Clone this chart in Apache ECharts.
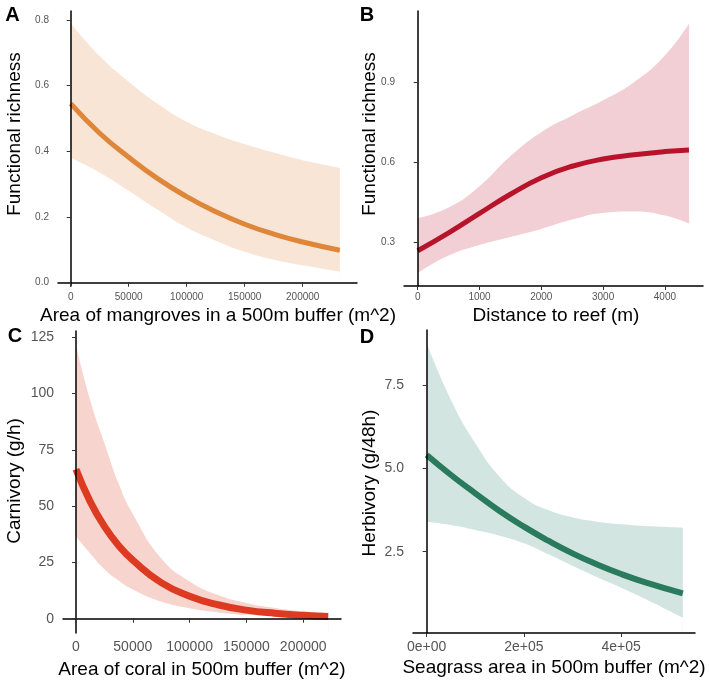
<!DOCTYPE html>
<html>
<head>
<meta charset="utf-8">
<script src="https://cdn.jsdelivr.net/npm/echarts@6/dist/echarts.min.js"></script>
<style>
  html, body { margin: 0; padding: 0; background: #fff; }
  #main { width: 709px; height: 684px; }
</style>
</head>
<body>
<div id="main"></div>
<script>
// ---- panel A: mangroves ----
const aX = [0, 25000, 50000, 75000, 100000, 125000, 150000, 175000, 200000, 232000];
const aFit = [0.545, 0.455, 0.382, 0.317, 0.262, 0.216, 0.178, 0.148, 0.124, 0.099];
const aUpper = [0.79, 0.69, 0.612, 0.545, 0.49, 0.452, 0.422, 0.396, 0.373, 0.35];
const aLower = [0.38, 0.335, 0.28, 0.222, 0.168, 0.128, 0.094, 0.07, 0.053, 0.034];
const aXTicks = [0, 50000, 100000, 150000, 200000];
const aXTickLabels = ['0', '50000', '100000', '150000', '200000'];
const aYTicks = [0, 0.2, 0.4, 0.6, 0.8];
const aYTickLabels = ['0.0', '0.2', '0.4', '0.6', '0.8'];

// ---- panel B: distance to reef ----
const bX = [0, 500, 1000, 1500, 2000, 2500, 3000, 3500, 4000, 4390];
const bFit = [0.268, 0.335, 0.408, 0.48, 0.542, 0.585, 0.612, 0.628, 0.64, 0.646];
const bUpper = [0.39, 0.43, 0.51, 0.622, 0.712, 0.775, 0.832, 0.9, 1.0, 1.12];
const bLower = [0.184, 0.25, 0.29, 0.32, 0.35, 0.385, 0.41, 0.415, 0.4, 0.37];
const bXTicks = [0, 1000, 2000, 3000, 4000];
const bXTickLabels = ['0', '1000', '2000', '3000', '4000'];
const bYTicks = [0.3, 0.6, 0.9];
const bYTickLabels = ['0.3', '0.6', '0.9'];

// ---- panel C: coral / carnivory ----
const cX = [0, 12500, 25000, 37500, 50000, 75000, 100000, 125000, 150000, 175000, 200000, 222000];
const cFit = [66.4, 52, 41, 32.5, 26, 16, 10, 6.2, 3.8, 2.4, 1.5, 1.0];
const cUpper = [121.5, 97, 78, 60, 46.5, 26.8, 16.5, 10.5, 7, 4.8, 3.3, 2.5];
const cLower = [36.5, 29, 22, 17, 13, 7.6, 4.6, 2.8, 1.7, 1.0, 0.6, 0.4];
const cXTicks = [0, 50000, 100000, 150000, 200000];
const cXTickLabels = ['0', '50000', '100000', '150000', '200000'];
const cYTicks = [0, 25, 50, 75, 100, 125];
const cYTickLabels = ['0', '25', '50', '75', '100', '125'];

// ---- panel D: seagrass / herbivory ----
const dX = [0, 50000, 100000, 150000, 200000, 250000, 300000, 350000, 400000, 450000, 527000];
const dFit = [5.4, 4.8, 4.25, 3.72, 3.25, 2.83, 2.45, 2.12, 1.83, 1.58, 1.25];
const dUpper = [8.75, 7.05, 5.75, 4.75, 4.12, 3.75, 3.53, 3.4, 3.32, 3.27, 3.22];
const dLower = [3.4, 3.3, 3.15, 2.98, 2.75, 2.42, 2.08, 1.74, 1.42, 1.08, 0.52];
const dXTicks = [0, 200000, 400000];
const dXTickLabels = ['0e+00', '2e+05', '4e+05'];
const dYTicks = [2.5, 5.0, 7.5];
const dYTickLabels = ['2.5', '5.0', '7.5'];

const panels = [
  { x: aX, fit: aFit, up: aUpper, lo: aLower, line: '#DE873A', band: '#F9E5D6', lw: 5,
    grid: { left: 58, top: 11, width: 299, height: 275 },
    xMin: -10950, xMax: 246800, yMin: -0.01, yMax: 0.827, fs: 10,
    xt: aXTicks, xl: aXTickLabels, yt: aYTicks, yl: aYTickLabels },
  { x: bX, fit: bFit, up: bUpper, lo: bLower, line: '#B7132B', band: '#F1CFD4', lw: 5,
    grid: { left: 404, top: 11, width: 299, height: 275 },
    xMin: -222, xMax: 4617, yMin: 0.136, yMax: 1.167, fs: 10,
    xt: bXTicks, xl: bXTickLabels, yt: bYTicks, yl: bYTickLabels },
  { x: cX, fit: cFit, up: cUpper, lo: cLower, line: '#DC3B22', band: '#F8D4CE', lw: 7,
    grid: { left: 63, top: 331, width: 278, height: 302 },
    xMin: -11440, xMax: 233270, yMin: -6.35, yMax: 127.75, fs: 14,
    xt: cXTicks, xl: cXTickLabels, yt: cYTicks, yl: cYTickLabels },
  { x: dX, fit: dFit, up: dUpper, lo: dLower, line: '#2A7A5D', band: '#D3E5E0', lw: 6,
    grid: { left: 413, top: 330, width: 282, height: 303 },
    xMin: -28190, xMax: 552060, yMin: 0.06, yMax: 9.15, fs: 14,
    xt: dXTicks, xl: dXTickLabels, yt: dYTicks, yl: dYTickLabels }
];

function axisBase(p, ticks, labels) {
  return {
    type: 'value',
    z: 10,
    axisLine: { show: true, lineStyle: { color: '#000', width: 1.5 } },
    axisTick: { show: true, length: 4, lineStyle: { color: '#333' }, customValues: ticks },
    axisLabel: {
      color: '#555', fontSize: p.fs, fontFamily: 'Liberation Sans',
      customValues: ticks,
      formatter: v => labels[ticks.findIndex(t => Math.abs(t - v) < 1e-9)]
    },
    splitLine: { show: false }
  };
}

const grids = [], xAxes = [], yAxes = [], series = [];
panels.forEach((p, i) => {
  grids.push(p.grid);
  const xa = axisBase(p, p.xt, p.xl);
  xa.gridIndex = i; xa.min = p.xMin; xa.max = p.xMax;
  xa.axisLabel.margin = p.fs > 12 ? 7 : 6;
  xAxes.push(xa);
  const ya = axisBase(p, p.yt, p.yl);
  ya.gridIndex = i; ya.min = p.yMin; ya.max = p.yMax;
  ya.axisLabel.margin = 9;
  yAxes.push(ya);

  const common = {
    type: 'line', xAxisIndex: i, yAxisIndex: i, smooth: true,
    symbol: 'none', silent: true
  };
  // confidence band: upper filled down to the axis, then masked in white below the lower bound
  series.push(Object.assign({}, common, {
    lineStyle: { width: 0, opacity: 0 },
    areaStyle: { color: p.band, opacity: 1, origin: 'start' },
    data: p.x.map((x, k) => [x, p.up[k]])
  }));
  series.push(Object.assign({}, common, {
    lineStyle: { width: 0, opacity: 0 },
    areaStyle: { color: '#fff', opacity: 1, origin: 'start' },
    data: p.x.map((x, k) => [x, p.lo[k]])
  }));
  series.push(Object.assign({}, common, {
    z: 5,
    lineStyle: { color: p.line, width: p.lw },
    data: p.x.map((x, k) => [x, p.fit[k]])
  }));
});

const titleStyle = { fill: '#000', fontSize: 19, fontFamily: 'Liberation Sans', align: 'center', verticalAlign: 'middle' };
const letterStyle = { fill: '#000', fontSize: 20, fontWeight: 'bold', fontFamily: 'Liberation Sans', align: 'center', verticalAlign: 'middle' };

function txt(text, x, y, style, rot) {
  return { type: 'text', x: x, y: y, rotation: rot || 0, style: Object.assign({ text: text }, style) };
}

const graphics = [
  txt('A', 12.5, 15, letterStyle),
  txt('B', 367, 15, letterStyle),
  txt('C', 15, 336, letterStyle),
  txt('D', 367, 337, letterStyle),
  txt('Area of mangroves in a 500m buffer (m^2)', 218, 316, titleStyle),
  txt('Distance to reef (m)', 556, 316, titleStyle),
  txt('Area of coral in 500m buffer (m^2)', 202, 670, titleStyle),
  txt('Seagrass area in 500m buffer (m^2)', 554, 668, titleStyle),
  txt('Functional richness', 15, 134, titleStyle, Math.PI / 2),
  txt('Functional richness', 370, 134, titleStyle, Math.PI / 2),
  txt('Carnivory (g/h)', 15, 481, titleStyle, Math.PI / 2),
  txt('Herbivory (g/48h)', 370, 483, titleStyle, Math.PI / 2)
];

const chart = echarts.init(document.getElementById('main'), null, { renderer: 'canvas' });
chart.setOption({
  animation: false,
  backgroundColor: '#fff',
  grid: grids,
  xAxis: xAxes,
  yAxis: yAxes,
  series: series,
  graphic: graphics
});
</script>
</body>
</html>
